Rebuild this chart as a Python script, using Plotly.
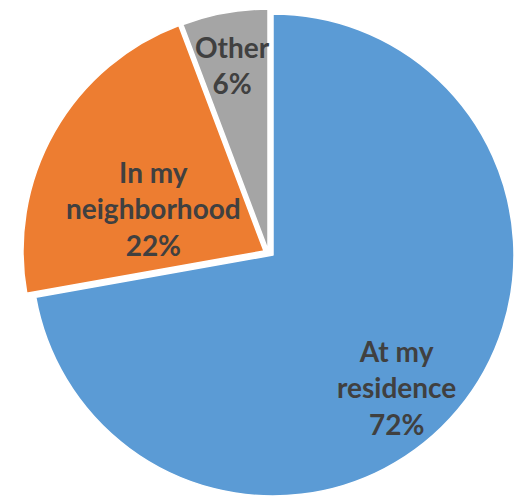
import math
import plotly.graph_objects as go

labels = ["At my residence", "In my neighborhood", "Other"]
label_lines = ["At my<br>residence", "In my<br>neighborhood", "Other"]
values = [72.2, 22.05, 5.75]
colors = ["#5B9BD5", "#ED7D31", "#A5A5A5"]

W, H = 524, 499
R = 241
# per-slice (exploded) pie centres in figure pixels
centers = [(265, 247), (256, 243), (260, 242)]
# label placement relative to each slice's mid-angle
radius_frac = [0.75, 0.49, 0.78]
angle_shift = [7, -8.7, -0.6]

CLEAR = "rgba(0,0,0,0)"
fig = go.Figure()
for i in range(len(values)):
    cx, cy = centers[i]
    fig.add_trace(go.Pie(
        labels=labels,
        values=values,
        sort=False,
        direction="clockwise",
        rotation=0,
        marker=dict(
            colors=[colors[j] if j == i else CLEAR for j in range(len(values))],
            line=dict(color=["white" if j == i else CLEAR for j in range(len(values))], width=1.5),
        ),
        textinfo="none",
        hoverinfo="label+percent",
        domain=dict(x=[(cx - R) / W, (cx + R) / W], y=[1 - (cy + R) / H, 1 - (cy - R) / H]),
        showlegend=False,
    ))

total = sum(values)
cum = 0
for i, v in enumerate(values):
    mid = (cum + v / 2) / total * 360 + angle_shift[i]
    cum += v
    th = math.radians(mid)
    rr = R * radius_frac[i]
    cx, cy = centers[i]
    x = cx + rr * math.sin(th)
    y = cy - rr * math.cos(th)
    pct = round(v / total * 100)
    fig.add_annotation(
        x=x / W, y=1 - y / H, xref="paper", yref="paper",
        xanchor="center", yanchor="middle",
        text=f"<b>{label_lines[i]}<br>{pct}%</b>",
        showarrow=False,
        font=dict(family="Lato", size=28, color="#404040"),
        align="center",
    )

fig.update_layout(
    width=W, height=H,
    margin=dict(l=0, r=0, t=0, b=0),
    paper_bgcolor="white",
    plot_bgcolor="white",
)

fig.write_html("out.html")
